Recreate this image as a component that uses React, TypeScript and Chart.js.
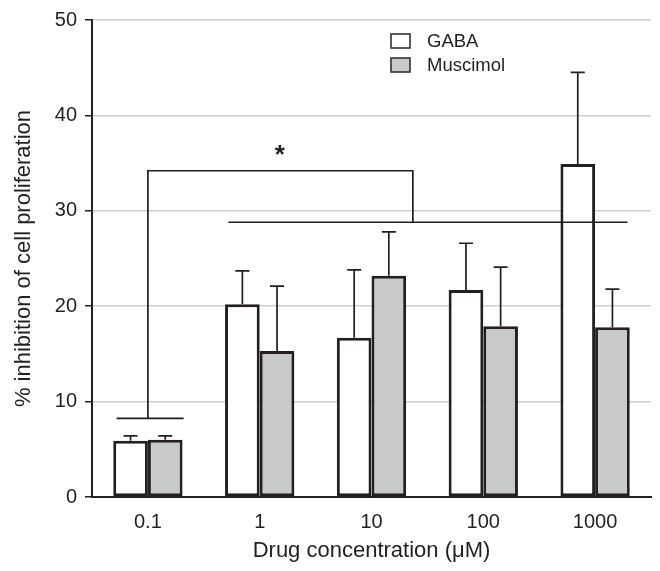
import React, { useEffect, useRef } from "react";
import { Chart, registerables } from "chart.js";

Chart.register(...registerables);

const categories = ["0.1", "1", "10", "100", "1000"];
const gabaValues = [5.9, 20.2, 16.7, 21.7, 34.9];
const gabaErrors = [0.5, 3.5, 7.1, 4.9, 9.6];
const muscimolValues = [6.0, 15.3, 23.2, 17.9, 17.8];
const muscimolErrors = [0.4, 6.8, 4.6, 6.2, 4.0];
const seriesNames = ["GABA", "Muscimol"];
const yTicks = [0, 10, 20, 30, 40, 50];

// significance annotation (category-index units on x, data units on y)
const sigLowLine = { y: 8.25, x0: -0.28, x1: 0.32 };
const sigBracket = { y: 34.2, x0: 0.0, x1: 2.37, yDown: 28.8 };
const sigHighLine = { y: 28.8, x0: 0.72, x1: 4.29 };
const sigStar = { x: 1.18, y: 36.2, text: "*" };

const FONT = '"Liberation Sans", Arial, Helvetica, sans-serif';
const INK = "#231f20";
const GRAY_FILL = "#c8c9cb";

export default function App() {
  const ref = useRef<HTMLCanvasElement | null>(null);

  useEffect(() => {
    if (!ref.current) return;
    const errors = [gabaErrors, muscimolErrors];

    const overlay = {
      id: "overlay",
      afterDatasetsDraw(chart: any) {
        const ctx = chart.ctx;
        const xs = chart.scales.x;
        const ys = chart.scales.y;
        const p0 = xs.getPixelForValue(0);
        const step = xs.getPixelForValue(1) - p0;
        const px = (v: number) => p0 + v * step;
        const py = (v: number) => ys.getPixelForValue(v);
        ctx.save();
        ctx.strokeStyle = INK;
        ctx.lineWidth = 1.7;
        ctx.lineCap = "butt";
        // error bars
        chart.data.datasets.forEach((ds: any, i: number) => {
          const meta = chart.getDatasetMeta(i);
          meta.data.forEach((el: any, j: number) => {
            const v = ds.data[j];
            const top = py(v + errors[i][j]);
            ctx.beginPath();
            ctx.moveTo(el.x, el.y);
            ctx.lineTo(el.x, top);
            ctx.moveTo(el.x - 7, top);
            ctx.lineTo(el.x + 7, top);
            ctx.stroke();
          });
        });
        // significance lines
        ctx.beginPath();
        ctx.moveTo(px(sigLowLine.x0), py(sigLowLine.y));
        ctx.lineTo(px(sigLowLine.x1), py(sigLowLine.y));
        ctx.moveTo(px(sigBracket.x0), py(sigLowLine.y));
        ctx.lineTo(px(sigBracket.x0), py(sigBracket.y));
        ctx.lineTo(px(sigBracket.x1), py(sigBracket.y));
        ctx.lineTo(px(sigBracket.x1), py(sigBracket.yDown));
        ctx.moveTo(px(sigHighLine.x0), py(sigHighLine.y));
        ctx.lineTo(px(sigHighLine.x1), py(sigHighLine.y));
        ctx.stroke();
        // star
        ctx.fillStyle = INK;
        ctx.font = `bold 26px ${FONT}`;
        ctx.textAlign = "center";
        ctx.textBaseline = "alphabetic";
        ctx.fillText(sigStar.text, px(sigStar.x), py(sigStar.y) + 11);
        // legend
        const fills = ["#ffffff", GRAY_FILL];
        const lx = chart.chartArea.left + 299;
        const ly = chart.chartArea.top + 14;
        ctx.font = `18.5px ${FONT}`;
        ctx.textAlign = "left";
        ctx.textBaseline = "middle";
        seriesNames.forEach((name, i) => {
          const by = ly + i * 24;
          ctx.fillStyle = fills[i];
          ctx.fillRect(lx, by, 19, 14);
          ctx.lineWidth = 1.6;
          ctx.strokeStyle = "#333";
          ctx.strokeRect(lx, by, 19, 14);
          ctx.fillStyle = INK;
          ctx.fillText(name, lx + 36, by + 7.5);
        });
        ctx.restore();
      },
    };

    const chart = new Chart(ref.current, {
      type: "bar",
      data: {
        labels: categories,
        datasets: [
          {
            label: seriesNames[0],
            data: gabaValues,
            backgroundColor: "#ffffff",
            borderColor: INK,
            borderWidth: 3,
            borderSkipped: false,
          },
          {
            label: seriesNames[1],
            data: muscimolValues,
            backgroundColor: GRAY_FILL,
            borderColor: INK,
            borderWidth: 3,
            borderSkipped: false,
          },
        ],
      },
      options: {
        responsive: false,
        animation: false,
        layout: { padding: { top: 19, right: 9, left: 0, bottom: 0 } },
        datasets: { bar: { categoryPercentage: 0.62, barPercentage: 1 } },
        plugins: { legend: { display: false }, tooltip: { enabled: false } },
        scales: {
          x: {
            grid: { display: false, drawTicks: false },
            border: { display: true, color: INK, width: 2 },
            ticks: { color: INK, font: { family: FONT, size: 20 }, padding: 13 },
            title: {
              display: true,
              text: "Drug concentration (μM)",
              color: INK,
              font: { family: FONT, size: 22 },
              padding: { top: 0, bottom: 7 },
            },
            afterFit: (s: any) => {
              s.height = 74;
            },
          },
          y: {
            min: 0,
            max: 50,
            afterBuildTicks: (s: any) => {
              s.ticks = yTicks.map((v) => ({ value: v }));
            },
            grid: { color: "#cfcfcf", lineWidth: 1.5, tickLength: 7, tickColor: INK, tickWidth: 1.5 },
            border: { display: true, color: INK, width: 2 },
            ticks: { color: INK, font: { family: FONT, size: 20 }, padding: 8 },
            title: {
              display: true,
              text: "% inhibition of cell proliferation",
              color: INK,
              font: { family: FONT, size: 22 },
              padding: { top: 11, bottom: 0 },
            },
            afterFit: (s: any) => {
              s.width = 92;
            },
          },
        },
      },
      plugins: [overlay],
    });
    return () => chart.destroy();
  }, []);

  return (
    <div style={{ position: "absolute", left: 0, top: 0, width: 660, height: 571, background: "#fff" }}>
      <canvas ref={ref} width={660} height={571} style={{ display: "block" }} />
    </div>
  );
}
